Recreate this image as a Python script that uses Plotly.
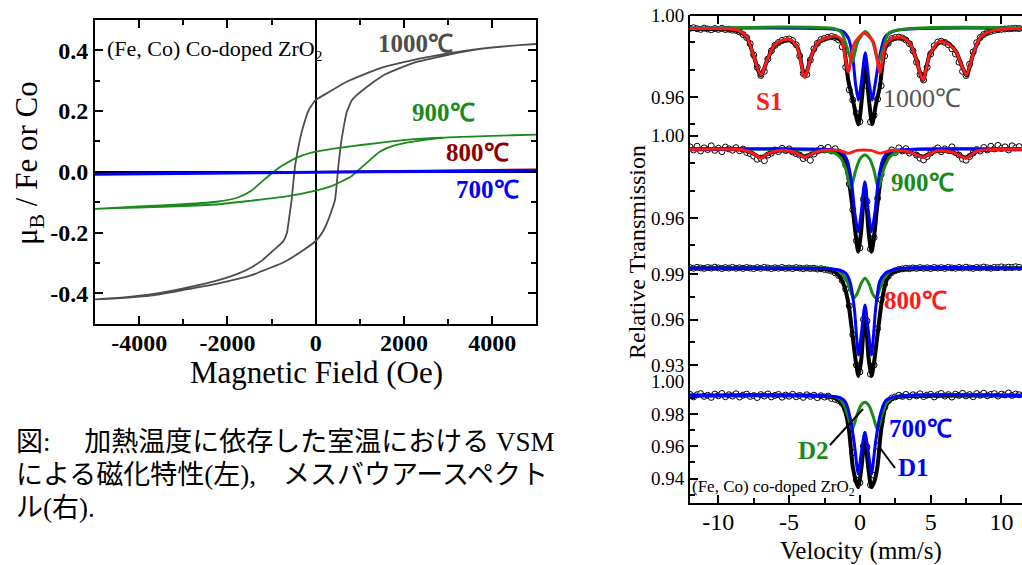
import plotly.graph_objects as go

# ---------------------------------------------------------------- data (left: VSM)
H_1000_UP = [5000, 4400, 3700, 3000, 2200, 1450, 700, 300, 0, -150, -280, -380, -470, -545,
             -600, -650, -730, -850, -1000, -1200, -1450, -1800, -2200, -3000, -3700, -4400, -5000]
M_1000_UP = [0.420, 0.414, 0.404, 0.389, 0.367, 0.340, 0.296, 0.262, 0.236, 0.205, 0.150, 0.090,
             0.016, -0.093, -0.150, -0.200, -0.228, -0.245, -0.264, -0.290, -0.314, -0.338,
             -0.357, -0.384, -0.403, -0.414, -0.420]
H_1000_DN = [-5000, -4400, -3700, -3000, -2200, -1450, -700, -300, 0, 150, 280, 437, 512, 570,
             626, 700, 815, 929, 1100, 1300, 1600, 2200, 3000, 3700, 4400, 5000]
M_1000_DN = [-0.420, -0.416, -0.407, -0.389, -0.367, -0.340, -0.296, -0.260, -0.228, -0.200,
             -0.160, -0.093, 0.016, 0.090, 0.140, 0.195, 0.234, 0.252, 0.272, 0.294, 0.322,
             0.357, 0.384, 0.403, 0.414, 0.420]

H_900_UP = [5000, 4000, 3000, 2200, 1450, 700, 0, -400, -800, -950, -1200, -1450, -1750,
            -2200, -3000, -4000, -5000]
M_900_UP = [0.122, 0.118, 0.113, 0.107, 0.095, 0.082, 0.066, 0.048, 0.016, 0.000, -0.030,
            -0.062, -0.084, -0.098, -0.107, -0.114, -0.122]
H_900_DN = [-5000, -4000, -3000, -2200, -1450, -700, 0, 400, 800, 930, 1200, 1450, 1750,
            2200, 3000, 4000, 5000]
M_900_DN = [-0.122, -0.118, -0.113, -0.107, -0.095, -0.082, -0.062, -0.045, -0.016, 0.000,
            0.035, 0.066, 0.085, 0.099, 0.113, 0.118, 0.122]

H_LINE = [-5000, -2500, 0, 2500, 5000]
M_800 = [-0.007, -0.004, 0.000, 0.004, 0.008]
M_700 = [-0.008, -0.005, -0.002, 0.001, 0.003]

# ---------------------------------------------------------------- data (right: Mossbauer)
VEL = [-12.00, -11.75, -11.50, -11.25, -11.00, -10.75, -10.50, -10.25, -10.00, -9.75, -9.50,
       -9.25, -9.00, -8.75, -8.50, -8.25, -8.00, -7.75, -7.50, -7.25, -7.00, -6.75, -6.50,
       -6.25, -6.00, -5.75, -5.50, -5.25, -5.00, -4.75, -4.50, -4.25, -4.00, -3.75, -3.50,
       -3.25, -3.00, -2.75, -2.50, -2.25, -2.00, -1.75, -1.50, -1.25, -1.00, -0.75, -0.50,
       -0.25, 0.00, 0.25, 0.50, 0.75, 1.00, 1.25, 1.50, 1.75, 2.00, 2.25, 2.50, 2.75, 3.00,
       3.25, 3.50, 3.75, 4.00, 4.25, 4.50, 4.75, 5.00, 5.25, 5.50, 5.75, 6.00, 6.25, 6.50,
       6.75, 7.00, 7.25, 7.50, 7.75, 8.00, 8.25, 8.50, 8.75, 9.00, 9.25, 9.50, 9.75, 10.00,
       10.25, 10.50, 10.75, 11.00, 11.25]

OBS_1000 = [0.9935, 0.9938, 0.9933, 0.9930, 0.9936, 0.9932, 0.9928, 0.9934, 0.9930, 0.9935, 0.9929,
            0.9931, 0.9926, 0.9925, 0.9918, 0.9905, 0.9890, 0.9860, 0.9805, 0.9745, 0.9705, 0.9725,
            0.9785, 0.9825, 0.9852, 0.9866, 0.9876, 0.9880, 0.9883, 0.9875, 0.9855, 0.9800, 0.9715,
            0.9710, 0.9780, 0.9835, 0.9862, 0.9880, 0.9886, 0.9892, 0.9895, 0.9890, 0.9878, 0.9845,
            0.9745, 0.9635, 0.9585, 0.9520, 0.9480, 0.9660, 0.9655, 0.9478, 0.9510, 0.9590, 0.9655,
            0.9800, 0.9862, 0.9885, 0.9890, 0.9892, 0.9888, 0.9878, 0.9860, 0.9825, 0.9770, 0.9710,
            0.9683, 0.9745, 0.9810, 0.9850, 0.9868, 0.9872, 0.9866, 0.9855, 0.9835, 0.9810, 0.9770,
            0.9725, 0.9705, 0.9760, 0.9820, 0.9865, 0.9890, 0.9905, 0.9915, 0.9920, 0.9925, 0.9928,
            0.9930, 0.9932, 0.9933, 0.9934, 0.9935, 0.9934]
OBS_900 = [0.9945, 0.9930, 0.9948, 0.9925, 0.9940, 0.9932, 0.9950, 0.9928, 0.9938, 0.9922, 0.9944,
           0.9935, 0.9929, 0.9941, 0.9926, 0.9934, 0.9918, 0.9912, 0.9900, 0.9885, 0.9890, 0.9878,
           0.9905, 0.9915, 0.9930, 0.9922, 0.9938, 0.9927, 0.9935, 0.9920, 0.9912, 0.9905, 0.9888,
           0.9895, 0.9880, 0.9910, 0.9925, 0.9938, 0.9930, 0.9942, 0.9925, 0.9936, 0.9920, 0.9900,
           0.9858, 0.9765, 0.9640, 0.9490, 0.9455, 0.9690, 0.9680, 0.9450, 0.9505, 0.9695, 0.9812,
           0.9878, 0.9912, 0.9930, 0.9918, 0.9940, 0.9925, 0.9936, 0.9915, 0.9922, 0.9905, 0.9890,
           0.9882, 0.9898, 0.9915, 0.9930, 0.9940, 0.9922, 0.9935, 0.9928, 0.9945, 0.9918, 0.9905,
           0.9886, 0.9880, 0.9898, 0.9915, 0.9932, 0.9925, 0.9942, 0.9930, 0.9948, 0.9935, 0.9952,
           0.9938, 0.9945, 0.9930, 0.9950, 0.9940, 0.9946]
OBS_800 = [0.9942, 0.9938, 0.9944, 0.9940, 0.9937, 0.9943, 0.9939, 0.9945, 0.9940, 0.9936, 0.9942,
           0.9939, 0.9944, 0.9938, 0.9941, 0.9937, 0.9943, 0.9939, 0.9936, 0.9942, 0.9938, 0.9944,
           0.9940, 0.9936, 0.9941, 0.9938, 0.9943, 0.9937, 0.9940, 0.9936, 0.9942, 0.9939, 0.9935,
           0.9940, 0.9936, 0.9938, 0.9933, 0.9935, 0.9930, 0.9926, 0.9920, 0.9908, 0.9890, 0.9858,
           0.9800, 0.9690, 0.9500, 0.9300, 0.9255, 0.9600, 0.9590, 0.9240, 0.9300, 0.9540, 0.9730,
           0.9835, 0.9885, 0.9910, 0.9922, 0.9930, 0.9934, 0.9938, 0.9935, 0.9940, 0.9937, 0.9942,
           0.9938, 0.9941, 0.9936, 0.9943, 0.9939, 0.9942, 0.9937, 0.9944, 0.9940, 0.9938, 0.9943,
           0.9939, 0.9945, 0.9940, 0.9937, 0.9943, 0.9940, 0.9946, 0.9941, 0.9938, 0.9944, 0.9942,
           0.9947, 0.9941, 0.9945, 0.9943, 0.9948, 0.9944]
OBS_700 = [0.9920, 0.9905, 0.9918, 0.9925, 0.9908, 0.9915, 0.9902, 0.9922, 0.9912, 0.9926, 0.9906,
           0.9918, 0.9910, 0.9924, 0.9904, 0.9916, 0.9922, 0.9908, 0.9913, 0.9901, 0.9919, 0.9910,
           0.9923, 0.9905, 0.9914, 0.9920, 0.9903, 0.9916, 0.9909, 0.9921, 0.9906, 0.9914, 0.9902,
           0.9918, 0.9908, 0.9915, 0.9900, 0.9912, 0.9904, 0.9910, 0.9895, 0.9890, 0.9882, 0.9865,
           0.9830, 0.9740, 0.9560, 0.9390, 0.9375, 0.9600, 0.9595, 0.9360, 0.9420, 0.9600, 0.9750,
           0.9840, 0.9880, 0.9898, 0.9905, 0.9915, 0.9908, 0.9920, 0.9906, 0.9918, 0.9911, 0.9924,
           0.9907, 0.9916, 0.9921, 0.9905, 0.9918, 0.9926, 0.9910, 0.9919, 0.9904, 0.9922, 0.9914,
           0.9927, 0.9911, 0.9919, 0.9906, 0.9925, 0.9915, 0.9928, 0.9912, 0.9920, 0.9925, 0.9910,
           0.9922, 0.9917, 0.9929, 0.9914, 0.9923, 0.9918]

# fitted sub-spectra (knots)
FIT_1000_V = [-12, -9.5, -8.6, -8.0, -7.5, -7.0, -6.5, -6.0, -5.0, -4.4, -3.9, -3.4, -2.9, -2.2,
              -1.6, -1.2, -0.82, -0.45, -0.1, 0.15, 0.38, 0.62, 0.87, 1.12, 1.41, 1.8, 2.3, 3.0,
              3.5, 3.95, 4.45, 4.95, 5.7, 6.3, 6.8, 7.1, 7.53, 8.0, 8.5, 9.2, 10.0, 11.5]
FIT_1000 = [0.9933, 0.9930, 0.9922, 0.9892, 0.9800, 0.9705, 0.9788, 0.9852, 0.9880, 0.9840,
            0.9700, 0.9805, 0.9868, 0.9890, 0.9888, 0.9860, 0.9680, 0.9570, 0.9467, 0.9600,
            0.9770, 0.9600, 0.9467, 0.9560, 0.9650, 0.9840, 0.9885, 0.9888, 0.9865, 0.9790,
            0.9683, 0.9810, 0.9870, 0.9858, 0.9820, 0.9770, 0.9705, 0.9810, 0.9888, 0.9920,
            0.9930, 0.9934]
S1_1000_V = [-12, -9.5, -8.6, -8.0, -7.5, -7.0, -6.5, -6.0, -5.4, -4.9, -4.4, -3.9, -3.4, -2.9,
             -2.3, -1.7, -1.3, -0.82, -0.4, 0.3, 0.95, 1.41, 1.85, 2.4, 3.0, 3.5, 3.95, 4.45, 4.95,
             5.6, 6.2, 6.8, 7.1, 7.53, 8.0, 8.5, 9.2, 10.0, 11.5]
S1_1000 = [0.9934, 0.9933, 0.9925, 0.9895, 0.9800, 0.9707, 0.9790, 0.9855, 0.9878, 0.9880,
           0.9840, 0.9696, 0.9805, 0.9870, 0.9890, 0.9897, 0.9880, 0.9723, 0.9860, 0.9911,
           0.9870, 0.9720, 0.9860, 0.9890, 0.9890, 0.9865, 0.9790, 0.9683, 0.9810, 0.9870,
           0.9860, 0.9820, 0.9770, 0.9707, 0.9810, 0.9890, 0.9920, 0.9930, 0.9935]
D1_1000_V = [-12, -2.0, -1.2, -0.8, -0.5, -0.3, -0.1, 0.1, 0.38, 0.65, 0.87, 1.07, 1.4, 1.8, 2.6, 11.5]
D1_1000 = [0.9935, 0.9932, 0.9920, 0.9885, 0.9790, 0.9660, 0.9585, 0.9670, 0.9816, 0.9670,
           0.9585, 0.9660, 0.9800, 0.9895, 0.9925, 0.9935]
D2_1000_V = [-12, -1.8, -1.3, -0.95, -0.55, -0.15, 0.38, 0.9, 1.3, 1.7, 2.1, 11.5]
D2_1000 = [0.9936, 0.9933, 0.9915, 0.9850, 0.9770, 0.9870, 0.9919, 0.9870, 0.9770, 0.9850,
           0.9915, 0.9936]

FIT_900_V = [-12, -8.3, -7.6, -7.0, -6.4, -5.5, -4.5, -3.9, -3.3, -2.5, -1.5, -1.1, -0.8, -0.5,
             -0.3, -0.12, 0.08, 0.35, 0.62, 0.82, 1.02, 1.2, 1.5, 1.9, 2.5, 3.5, 4.45, 5.4, 6.5,
             7.5, 8.3, 11.5]
FIT_900 = [0.9933, 0.9931, 0.9915, 0.9893, 0.9915, 0.9928, 0.9915, 0.9897, 0.9915, 0.9927, 0.9915,
           0.9880, 0.9790, 0.9640, 0.9520, 0.9436, 0.9530, 0.9752, 0.9530, 0.9436, 0.9520, 0.9640,
           0.9800, 0.9895, 0.9922, 0.9920, 0.9898, 0.9925, 0.9920, 0.9893, 0.9925, 0.9933]
S1_900_V = [-12, -8.3, -7.6, -7.0, -6.4, -5.5, -4.5, -3.9, -3.3, -2.5, -1.5, -0.82, -0.2, 0.3,
            0.8, 1.41, 2.2, 3.5, 4.45, 5.4, 6.5, 7.5, 8.3, 11.5]
S1_900 = [0.9933, 0.9931, 0.9915, 0.9891, 0.9915, 0.9928, 0.9915, 0.9895, 0.9915, 0.9928, 0.9928,
          0.9914, 0.9928, 0.9930, 0.9928, 0.9914, 0.9928, 0.9920, 0.9896, 0.9925, 0.9920, 0.9891,
          0.9925, 0.9933]
D1_900_V = [-12, -2.0, -1.3, -0.9, -0.6, -0.35, -0.12, 0.1, 0.35, 0.6, 0.82, 1.05, 1.3, 1.6, 2.0, 2.8, 11.5]
D1_900 = [0.9933, 0.9931, 0.9920, 0.9880, 0.9780, 0.9620, 0.9533, 0.9630, 0.9776, 0.9630, 0.9533,
          0.9620, 0.9780, 0.9880, 0.9920, 0.9930, 0.9933]
D2_900_V = [-12, -2.0, -1.4, -1.0, -0.65, -0.3, 0.0, 0.35, 0.7, 1.0, 1.3, 1.7, 2.1, 2.8, 11.5]
D2_900 = [0.9933, 0.9920, 0.9895, 0.9840, 0.9745, 0.9830, 0.9885, 0.9905, 0.9885, 0.9830, 0.9745,
          0.9840, 0.9895, 0.9925, 0.9933]

FIT_800_V = [-12, -2.5, -1.8, -1.4, -1.1, -0.8, -0.55, -0.3, -0.1, 0.1, 0.36, 0.62, 0.82, 1.02,
             1.27, 1.55, 1.85, 2.2, 3.0, 11.5]
FIT_800 = [0.9938, 0.9932, 0.9915, 0.9880, 0.9820, 0.9700, 0.9520, 0.9330, 0.9228, 0.9340, 0.9650,
           0.9340, 0.9228, 0.9330, 0.9520, 0.9720, 0.9850, 0.9905, 0.9930, 0.9938]
D1_800_V = [-12, -2.2, -1.4, -1.0, -0.7, -0.4, -0.1, 0.12, 0.36, 0.6, 0.82, 1.12, 1.4, 1.8, 2.6, 11.5]
D1_800 = [0.9938, 0.9935, 0.9925, 0.9905, 0.9850, 0.9680, 0.9366, 0.9520, 0.9696, 0.9520, 0.9366,
          0.9680, 0.9850, 0.9905, 0.9933, 0.9938]
D2_800_V = [-12, -2.0, -1.4, -1.0, -0.7, -0.45, -0.2, 0.1, 0.36, 0.62, 0.9, 1.15, 1.4, 1.7, 2.1, 2.8, 11.5]
D2_800 = [0.9938, 0.9934, 0.9915, 0.9870, 0.9800, 0.9740, 0.9770, 0.9840, 0.9872, 0.9840, 0.9770,
          0.9740, 0.9800, 0.9870, 0.9915, 0.9934, 0.9938]

FIT_700_V = [-12, -2.4, -1.8, -1.4, -1.1, -0.8, -0.5, -0.3, -0.12, 0.1, 0.35, 0.6, 0.82, 1.05,
             1.25, 1.5, 1.8, 2.2, 2.8, 11.5]
FIT_700 = [0.9913, 0.9909, 0.9898, 0.9875, 0.9830, 0.9720, 0.9470, 0.9390, 0.9346, 0.9460, 0.9650,
           0.9460, 0.9346, 0.9390, 0.9480, 0.9700, 0.9840, 0.9890, 0.9906, 0.9913]
D1_700_V = [-12, -2.2, -1.4, -1.0, -0.7, -0.4, -0.12, 0.1, 0.35, 0.6, 0.82, 1.1, 1.4, 1.8, 2.6, 11.5]
D1_700 = [0.9913, 0.9911, 0.9900, 0.9870, 0.9780, 0.9620, 0.9429, 0.9560, 0.9686, 0.9560, 0.9429,
          0.9620, 0.9780, 0.9880, 0.9908, 0.9913]
D2_700_V = [-12, -2.2, -1.6, -1.2, -0.85, -0.55, -0.25, 0.05, 0.35, 0.65, 0.95, 1.25, 1.55, 1.9, 2.5, 11.5]
D2_700 = [0.9913, 0.9911, 0.9900, 0.9870, 0.9790, 0.9700, 0.9780, 0.9850, 0.9872, 0.9850, 0.9780,
          0.9700, 0.9790, 0.9870, 0.9905, 0.9913]

for arr in (OBS_1000, OBS_900, OBS_800, OBS_700):
    assert len(arr) == len(VEL), len(arr)

# tick labels
VSM_XTICKS = [-4000, -2000, 0, 2000, 4000]
VSM_XTEXT = ['-4000', '-2000', '0', '2000', '4000']
VSM_YTICKS = [-0.4, -0.2, 0.0, 0.2, 0.4]
VSM_YTEXT = ['-0.4', '-0.2', '0.0', '0.2', '0.4']
VEL_TICKS = [-10, -5, 0, 5, 10]
VEL_TEXT = ['-10', '-5', '0', '5', '10']

# ---------------------------------------------------------------- layout helpers
W, H = 1022, 565
def fx(p):
    return p / W
def fy(p):
    return 1 - p / H

SERIF = 'Times New Roman, Liberation Serif, serif'
BLACK = '#000000'
GRAY = '#4d4d4d'
GREEN = '#1a8a1a'
DKRED = '#8b0000'
BLUE = '#0000ff'
RED = '#ff1a1a'

fig = go.Figure()

def line(x, y, color, width, xa, ya, smooth=0.6):
    fig.add_trace(go.Scatter(x=x, y=y, mode='lines', xaxis=xa, yaxis=ya, showlegend=False,
                             hoverinfo='skip',
                             line=dict(color=color, width=width, shape='spline', smoothing=smooth)))

# left panel
line(H_1000_UP + H_1000_DN, M_1000_UP + M_1000_DN, GRAY, 1.8, 'x', 'y', 0.4)
line(H_900_UP + H_900_DN, M_900_UP + M_900_DN, GREEN, 1.8, 'x', 'y', 0.5)
line(H_LINE, M_800, DKRED, 1.5, 'x', 'y')
line(H_LINE, M_700, BLUE, 3, 'x', 'y')

def obs(y, ya):
    fig.add_trace(go.Scatter(x=VEL, y=y, mode='markers', xaxis='x2', yaxis=ya, showlegend=False,
                             hoverinfo='skip',
                             marker=dict(symbol='circle', size=6, color='white',
                                         line=dict(color=BLACK, width=1))))

# 1000 C
obs(OBS_1000, 'y2')
line(FIT_1000_V, FIT_1000, BLACK, 4, 'x2', 'y2', 0.7)
line(D1_1000_V, D1_1000, BLUE, 3, 'x2', 'y2', 0.7)
line(D2_1000_V, D2_1000, GREEN, 3, 'x2', 'y2', 0.7)
line(S1_1000_V, S1_1000, RED, 3, 'x2', 'y2', 0.7)
# 900 C
obs(OBS_900, 'y3')
line(FIT_900_V, FIT_900, BLACK, 4, 'x2', 'y3', 0.7)
line(D2_900_V, D2_900, GREEN, 3, 'x2', 'y3', 0.7)
line(D1_900_V, D1_900, BLUE, 3, 'x2', 'y3', 0.7)
line(S1_900_V, S1_900, RED, 3, 'x2', 'y3', 0.7)
# 800 C
obs(OBS_800, 'y4')
line(FIT_800_V, FIT_800, BLACK, 4, 'x2', 'y4', 0.7)
line(D2_800_V, D2_800, GREEN, 3, 'x2', 'y4', 0.7)
line(D1_800_V, D1_800, BLUE, 3, 'x2', 'y4', 0.7)
# 700 C
obs(OBS_700, 'y5')
line(FIT_700_V, FIT_700, BLACK, 4, 'x2', 'y5', 0.7)
line(D2_700_V, D2_700, GREEN, 3, 'x2', 'y5', 0.7)
line(D1_700_V, D1_700, BLUE, 3, 'x2', 'y5', 0.7)

# helper trace so the top frame axis exists
fig.add_trace(go.Scatter(x=[0], y=[0.99], xaxis='x3', yaxis='y2', mode='markers',
                         marker=dict(opacity=0), showlegend=False, hoverinfo='skip'))

axis_common = dict(showline=True, linecolor=BLACK, linewidth=2, ticks='inside', tickcolor=BLACK,
                   tickwidth=1.5, showgrid=False, automargin=False)
minor_common = dict(ticklen=5, ticks='inside', tickcolor=BLACK, tickwidth=1.5, showgrid=False)

layout = dict(
    template='none',
    width=W, height=H, autosize=False, margin=dict(l=0, r=0, t=0, b=0, pad=0),
    paper_bgcolor='white', plot_bgcolor='white', showlegend=False,
    font=dict(family=SERIF, color=BLACK),
    xaxis=dict(domain=[fx(95), fx(536.4)], anchor='y', range=[-5000, 5000],
               tickmode='array', tickvals=VSM_XTICKS, ticktext=VSM_XTEXT, ticklen=8,
               mirror='ticks', zeroline=True, zerolinecolor=BLACK, zerolinewidth=2,
               ticklabelstandoff=-4,
               minor=dict(tickvals=[-3000, -1000, 1000, 3000], **minor_common),
               tickfont=dict(family=SERIF, size=24, color=BLACK, weight='bold'), **axis_common),
    yaxis=dict(domain=[fy(323.7), fy(19.7)], anchor='x', range=[-0.5, 0.5],
               tickmode='array', tickvals=VSM_YTICKS, ticktext=VSM_YTEXT, ticklen=8,
               mirror='ticks', zeroline=True, zerolinecolor=BLACK, zerolinewidth=2,
               minor=dict(tickvals=[-0.3, -0.1, 0.1, 0.3], **minor_common),
               tickfont=dict(family=SERIF, size=24, color=BLACK, weight='bold'), **axis_common),
    xaxis2=dict(domain=[fx(690), 1.0], anchor='y5', range=[-12, 11.45],
                tickmode='array', tickvals=VEL_TICKS, ticktext=VEL_TEXT, ticklen=8, zeroline=False,
                ticklabelstandoff=-4,
                minor=dict(tickvals=[-7.5, -2.5, 2.5, 7.5], **minor_common),
                tickfont=dict(family=SERIF, size=24, color=BLACK), **axis_common),
    xaxis3=dict(domain=[fx(690), 1.0], overlaying='x2', matches='x2', side='top', anchor='free',
                position=fy(15), tickmode='array', tickvals=VEL_TICKS, ticklen=8,
                showticklabels=False, zeroline=False,
                minor=dict(tickvals=[-7.5, -2.5, 2.5, 7.5], **minor_common),
                **axis_common),
)

# Mossbauer panels: (axis, top px, bottom px, ref value, ref px, px per unit, major, labels, minor)
PANELS = [
    ('yaxis2', 15, 130, 1.00, 15, 2050, [0.96, 1.00], ['0.96', '1.00'], [0.9467, 0.9733, 0.9867]),
    ('yaxis3', 130, 256, 1.00, 135.5, 2062, [0.96, 1.00], ['0.96', '1.00'], [0.9467, 0.9733, 0.9867]),
    ('yaxis4', 256, 381, 0.99, 274, 1517, [0.93, 0.96, 0.99], ['0.93', '0.96', '0.99'], [0.945, 0.975]),
    ('yaxis5', 381, 503, 1.00, 381.5, 1617, [0.94, 0.96, 0.98, 1.00], ['0.94', '0.96', '0.98', '1.00'],
     [0.93, 0.95, 0.97, 0.99]),
]
for name, top, bot, rv, rp, ppu, maj, lab, mnr in PANELS:
    lo = rv - (bot - rp) / ppu
    hi = rv + (rp - top) / ppu + 1e-5
    layout[name] = dict(domain=[fy(bot), fy(top)], anchor='x2', range=[lo, hi],
                        tickmode='array', tickvals=maj, ticktext=lab, ticklen=8, zeroline=False,
                        minor=dict(tickvals=mnr, **minor_common),
                        tickfont=dict(family=SERIF, size=19, color=BLACK), **axis_common)

fig.update_layout(**layout)

def text(t, x, y, size, color=BLACK, bold=False, xanchor='left', angle=0, family=SERIF):
    fig.add_annotation(text=t, x=fx(x), y=fy(y), xref='paper', yref='paper', showarrow=False,
                       xanchor=xanchor, yanchor='middle', textangle=angle,
                       font=dict(family=family, size=size, color=color,
                                 weight='bold' if bold else 'normal'))

# left-panel texts
text('(Fe, Co) Co-doped ZrO<sub>2</sub>', 105, 50, 22)
text('1000℃', 376, 44, 25, GRAY, True)
text('900℃', 410, 113, 25, GREEN, True)
text('800℃', 444, 152, 25, DKRED, True)
text('700℃', 454, 189, 25, BLUE, True)
text('Magnetic Field (Oe)', 316, 372, 31, xanchor='center')
text('μ<sub>B</sub> / Fe or Co', 29, 163, 31, xanchor='center', angle=-90)

# right-panel texts
text('S1', 754, 102, 25, RED, True)
text('1000℃', 881, 98, 26, '#555555')
text('900℃', 889, 183, 25, GREEN, True)
text('800℃', 882, 300, 25, RED, True)
text('700℃', 887, 428, 25, BLUE, True)
text('D2', 796, 450, 25, GREEN, True)
text('D1', 896, 467, 25, BLUE, True)
text('(Fe, Co) co-doped ZrO<sub>2</sub>', 690, 488, 17)
text('Velocity (mm/s)', 861, 551, 25, xanchor='center')
text('Relative Transmission', 637, 252, 24, xanchor='center', angle=-90)

# pointer lines for D1 / D2
for x0, y0, x1, y1 in [(830, 445, 863, 409), (895, 468, 880, 448)]:
    fig.add_shape(type='line', xref='paper', yref='paper', x0=fx(x0), y0=fy(y0),
                  x1=fx(x1), y1=fy(y1), line=dict(color=BLACK, width=2))

# caption
CJK = 'Times New Roman, Liberation Serif, Noto Sans CJK JP'
text('図:\u3000 加熱温度に依存した室温における VSM', 14, 442, 27, family=CJK)
text('による磁化特性(左),\u3000メスバウアースペクト', 14, 475, 27, family=CJK)
text('ル(右).', 14, 508, 27, family=CJK)

fig.write_html('out.html')
